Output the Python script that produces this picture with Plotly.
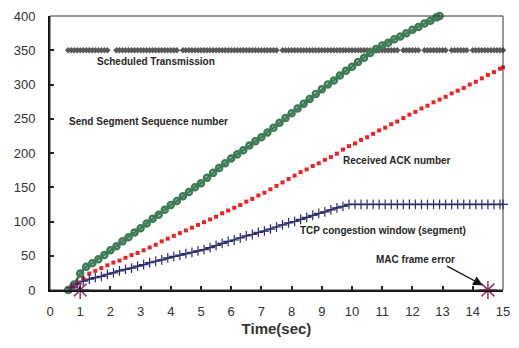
import plotly.graph_objects as go

# ---------------- data ----------------
send_x = [0.6, 0.8, 1.0, 1.2, 1.4, 1.6, 1.8, 2.0, 2.2, 2.4, 2.6, 2.8, 3.0, 3.2, 3.4, 3.6, 3.8, 4.0,
          4.2, 4.4, 4.6, 4.8, 5.0, 5.2, 5.4, 5.6, 5.8, 6.0, 6.2, 6.4, 6.6, 6.8, 7.0, 7.2, 7.4, 7.6,
          7.8, 8.0, 8.2, 8.4, 8.6, 8.8, 9.0, 9.2, 9.4, 9.6, 9.8, 10.0, 10.2, 10.4, 10.6, 10.8, 11.0,
          11.2, 11.4, 11.6, 11.8, 12.0, 12.2, 12.4, 12.6, 12.8, 12.9]
send_y = [0, 8, 24, 34, 39, 45, 51, 58, 64, 71, 77, 84, 90, 97, 104, 110, 117, 124,
          130, 137, 143, 150, 156, 164, 171, 178, 185, 192, 198, 204, 211, 217, 223, 230, 237, 244,
          251, 258, 265, 272, 279, 286, 293, 300, 306, 313, 320, 326, 333, 339, 346, 352, 357,
          361, 366, 370, 375, 380, 384, 389, 393, 398, 400]

ack_x = [0.7, 0.9, 1.1, 1.3, 1.5, 1.7, 1.9, 2.1, 2.3, 2.5, 2.7, 2.9, 3.1, 3.3, 3.5, 3.7, 3.9, 4.1,
         4.3, 4.5, 4.7, 4.9, 5.1, 5.3, 5.5, 5.7, 5.9, 6.1, 6.3, 6.5, 6.7, 6.9, 7.1, 7.3, 7.5, 7.7,
         7.9, 8.1, 8.3, 8.5, 8.7, 8.9, 9.1, 9.3, 9.5, 9.7, 9.9, 10.1, 10.3, 10.5, 10.7, 10.9, 11.1,
         11.3, 11.5, 11.7, 11.9, 12.1, 12.3, 12.5, 12.7, 12.9, 13.1, 13.3, 13.5, 13.7, 13.9, 14.1,
         14.3, 14.5, 14.7, 14.9, 15.0]
ack_y = [5, 10, 17, 24, 28, 32, 36, 40, 43, 47, 51, 54, 58, 62, 66, 71, 75, 79,
         83, 87, 91, 95, 99, 103, 107, 112, 116, 120, 124, 129, 133, 138, 142, 147, 152, 157,
         162, 167, 172, 176, 181, 185, 190, 194, 199, 205, 210, 214, 219, 223, 228, 233, 237,
         242, 246, 251, 256, 260, 265, 269, 274, 278, 282, 287, 291, 295, 300, 304,
         309, 314, 318, 323, 325]

cwnd_x = [0.7, 0.9, 1.1, 1.3, 1.5, 1.7, 1.9, 2.1, 2.3, 2.5, 2.7, 2.9, 3.1, 3.3, 3.5, 3.7, 3.9, 4.1,
          4.3, 4.5, 4.7, 4.9, 5.1, 5.3, 5.5, 5.7, 5.9, 6.1, 6.3, 6.5, 6.7, 6.9, 7.1, 7.3, 7.5, 7.7,
          7.9, 8.1, 8.3, 8.5, 8.7, 8.9, 9.1, 9.3, 9.5, 9.7, 9.9, 10.1, 10.3, 10.5, 10.7, 10.9, 11.1,
          11.3, 11.5, 11.7, 11.9, 12.1, 12.3, 12.5, 12.7, 12.9, 13.1, 13.3, 13.5, 13.7, 13.9, 14.1,
          14.3, 14.5, 14.7, 14.9, 15.0]
cwnd_y = [3, 9, 13, 16, 18, 20, 23, 25, 28, 30, 32, 35, 37, 40, 42, 44, 47, 49,
          51, 53, 55, 57, 59, 62, 65, 68, 71, 73, 76, 79, 81, 84, 86, 89, 92, 95,
          98, 100, 103, 106, 109, 112, 114, 117, 120, 122, 125, 125, 125, 125, 125, 125, 125,
          125, 125, 125, 125, 125, 125, 125, 125, 125, 125, 125, 125, 125, 125, 125,
          125, 125, 125, 125, 125]

sched_x = [0.6, 0.7, 0.8, 0.9, 1.0, 1.1, 1.2, 1.3, 1.4, 1.5, 1.6, 1.7, 1.8, 1.9,
           2.2, 2.3, 2.4, 2.5, 2.6, 2.7, 2.8, 2.9, 3.0, 3.1, 3.2, 3.3, 3.4, 3.5, 3.6, 3.7, 3.8,
           3.9, 4.0, 4.1, 4.2,
           4.4, 4.5, 4.6, 4.7, 4.8, 4.9, 5.0, 5.1, 5.2, 5.3, 5.4, 5.5, 5.6, 5.7, 5.8, 5.9, 6.0,
           6.1, 6.2, 6.3, 6.4, 6.5, 6.6, 6.7, 6.8, 6.9, 7.0, 7.1, 7.2, 7.3, 7.4, 7.5,
           7.7, 7.8, 7.9, 8.0, 8.1, 8.2, 8.3, 8.4, 8.5, 8.6, 8.7, 8.8, 8.9, 9.0, 9.1, 9.2, 9.3,
           9.4, 9.5, 9.6, 9.7, 9.8, 9.9, 10.0, 10.1, 10.2, 10.3, 10.4, 10.5, 10.6, 10.7, 10.8,
           10.9, 11.0, 11.1, 11.2, 11.3, 11.4, 11.5,
           11.7, 11.8, 11.9, 12.0, 12.1, 12.2,
           12.4, 12.5, 12.6, 12.7, 12.8, 12.9, 13.0, 13.1,
           13.3, 13.4, 13.5, 13.6, 13.7, 13.8,
           14.0, 14.1, 14.2, 14.3, 14.4, 14.5, 14.6, 14.7, 14.8, 14.9, 15.0]
sched_level = 350
sched_y = [sched_level] * len(sched_x)

error_x = [1.0, 14.5]
error_y = [0, 0]

x_ticks = list(range(0, 16))
y_ticks = [0, 50, 100, 150, 200, 250, 300, 350, 400]

# ---------------- figure ----------------
FONT = "Liberation Sans, Arial, sans-serif"
fig = go.Figure()

fig.add_trace(go.Scatter(
    x=sched_x, y=sched_y, mode="markers",
    marker=dict(symbol="diamond", size=5, color="#585858"),
    cliponaxis=False, showlegend=False))

fig.add_trace(go.Scatter(
    x=send_x, y=send_y, mode="lines+markers",
    line=dict(color="#3E7B57", width=2.5),
    marker=dict(symbol="circle-open", size=6, color="#3E7B57", line=dict(width=2.5)),
    cliponaxis=False, showlegend=False))

fig.add_trace(go.Scatter(
    x=ack_x, y=ack_y, mode="markers",
    marker=dict(symbol="square", size=4, color="#EE2222"),
    cliponaxis=False, showlegend=False))

fig.add_trace(go.Scatter(
    x=cwnd_x, y=cwnd_y, mode="lines+markers",
    line=dict(color="#2B2D6E", width=1.5),
    marker=dict(symbol="cross-thin-open", size=7, color="#2B2D6E", line=dict(width=1.2, color="#2B2D6E")),
    cliponaxis=False, showlegend=False))

fig.add_trace(go.Scatter(
    x=error_x, y=error_y, mode="markers",
    marker=dict(symbol="asterisk-open", size=15, color="#A0306A", line=dict(width=1.5, color="#A0306A")),
    cliponaxis=False, showlegend=False))

labels = [
    ("Scheduled Transmission", 3.5, 334),
    ("Send Segment Sequence number", 3.26, 246),
    ("Received ACK number", 11.49, 189),
    ("TCP congestion window (segment)", 11.03, 87),
    ("MAC frame error", 12.09, 45),
]
for txt, lx, ly in labels:
    fig.add_annotation(x=lx, y=ly, text="<b>" + txt + "</b>", showarrow=False,
                       font=dict(family=FONT, size=10, color="#262626"),
                       xanchor="center", yanchor="middle")

fig.add_annotation(x=14.33, y=7, ax=13.1, ay=36, axref="x", ayref="y", text="",
                   showarrow=True, arrowhead=2, arrowsize=1.6, arrowwidth=1.2, arrowcolor="#111111")

# thin frame on top/right
fig.add_shape(type="rect", xref="paper", yref="paper", x0=0, y0=0, x1=1, y1=1,
              line=dict(color="#333333", width=1), layer="above")

fig.update_layout(
    width=519, height=348,
    margin=dict(l=50, r=10, t=9, b=58),
    paper_bgcolor="white", plot_bgcolor="white",
    font=dict(family=FONT, color="#333333"),
    xaxis=dict(range=[0, 15], tickvals=x_ticks, ticks="inside", ticklen=4, tickwidth=1.5,
               tickcolor="#222222", showline=True, linecolor="#111111", linewidth=2,
               showgrid=False, zeroline=False, tickfont=dict(size=13, color="#333333"),
               ticklabelstandoff=8,
               title=dict(text="<b>Time(sec)</b>", font=dict(size=15, color="#333333"), standoff=6)),
    yaxis=dict(range=[0, 400], tickvals=y_ticks, ticks="inside", ticklen=4, tickwidth=1.5,
               tickcolor="#222222", showline=True, linecolor="#111111", linewidth=2,
               showgrid=False, zeroline=False, tickfont=dict(size=13, color="#333333"),
               ticklabelstandoff=10),
)

fig.write_html("out.html")
